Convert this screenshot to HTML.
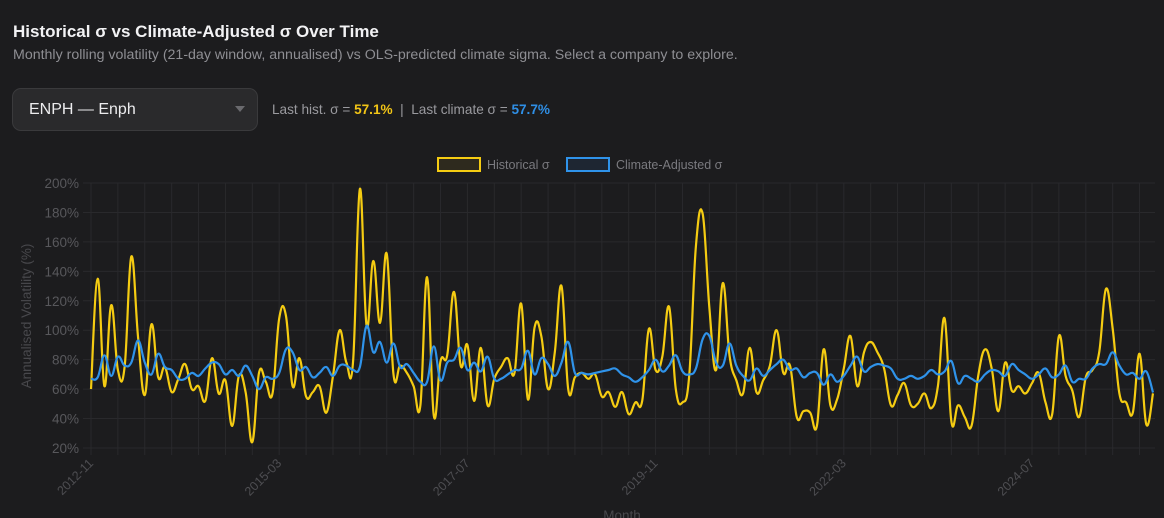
<!DOCTYPE html>
<html><head><meta charset="utf-8">
<style>
html,body{margin:0;padding:0;background:#1c1c1e;width:1164px;height:518px;overflow:hidden;font-family:"Liberation Sans",sans-serif;}
.title{position:absolute;left:13px;top:22px;font-size:17px;font-weight:bold;color:#f2f2f4;}
.sub{position:absolute;left:13px;top:47px;font-size:14.2px;color:#8e8e93;}
.dd{position:absolute;left:12px;top:88px;width:246px;height:43px;box-sizing:border-box;background:#2a2a2c;border:1px solid #3a3a3c;border-radius:9px;}
.dd span{position:absolute;left:16px;top:12px;font-size:16px;color:#ececee;}
.dd i{position:absolute;right:12px;top:17px;width:0;height:0;border-left:5px solid transparent;border-right:5px solid transparent;border-top:6px solid #6a6a6e;}
.stats{position:absolute;left:272px;top:102px;font-size:13.6px;color:#9a9a9f;}
.stats b.y{color:#f2c516}.stats b.b{color:#2f8fe6}
svg{position:absolute;left:0;top:0}
</style></head><body>
<div class="title">Historical σ vs Climate-Adjusted σ Over Time</div>
<div class="sub">Monthly rolling volatility (21-day window, annualised) vs OLS-predicted climate sigma. Select a company to explore.</div>
<div class="dd"><span>ENPH — Enph</span><i></i></div>
<div class="stats">Last hist. σ = <b class="y">57.1%</b> &nbsp;|&nbsp; Last climate σ = <b class="b">57.7%</b></div>
<svg id="chart" width="1164" height="518"></svg>
<script>
const startYear = 2012, startMonth = 11;
const yTicks = [20,40,60,80,100,120,140,160,180,200];
const historical = [60,135,62,117,73,75,150,95,56,104,68,75,58,67,77,60,62,52,81,57,66,35,69,58,24,71,
65,57,108,110,62,81,55,58,62,44,69,100,78,79,196,103,147,105,152,70,76,71,62,49,136,42,79,
83,126,76,90,52,88,49,67,75,81,71,118,53,102,96,60,85,130,60,68,71,67,70,55,58,48,58,43,
51,52,101,73,82,116,60,51,69,157,179,115,73,132,83,66,57,88,58,66,76,100,71,76,41,45,44,
35,87,49,53,74,96,62,85,92,85,74,49,56,64,49,50,57,47,62,108,38,49,41,35,69,87,74,
45,78,59,62,57,64,71,51,43,96,69,59,41,68,73,85,128,101,57,51,44,84,36,57.1];
const climate = [67,68,83,69,82,76,78,93,78,70,84,75,73,67,67,71,69,74,78,77,70,73,69,76,69,60,
68,67,71,87,85,73,75,68,71,75,69,76,76,73,75,103,85,92,78,91,75,77,71,65,65,89,66,
78,80,88,73,78,72,82,67,67,70,73,74,86,70,81,77,69,78,92,71,71,70,71,72,73,74,70,68,
65,68,73,80,72,76,83,72,70,74,94,96,78,76,91,76,69,66,74,69,73,77,80,73,74,68,71,
71,63,70,65,69,76,82,72,75,77,76,74,67,67,69,67,69,73,70,72,79,64,69,67,65,70,73,
72,69,77,73,70,67,70,74,68,70,76,65,67,67,74,77,77,85,76,70,71,67,72,57.7];
const N = historical.length;
const labels = [];
for (let i=0;i<N;i++){const m=(startMonth-1+i);labels.push((startYear+Math.floor(m/12))+'-'+String(m%12+1).padStart(2,'0'));}

const L=91,R=1153,T=183,B=448,yMin=20,yMax=200;
const xs=i=>L+i*(R-L)/(N-1);
const ys=v=>B-(v-yMin)/(yMax-yMin)*(B-T);
const svg=document.getElementById('chart');
const NS='http://www.w3.org/2000/svg';
function mk(tag,attrs,parent){const e=document.createElementNS(NS,tag);for(const k in attrs)e.setAttribute(k,attrs[k]);(parent||svg).appendChild(e);return e;}

for(const t of yTicks){
  const g=mk('line',{x1:L-8,x2:R+2,y1:ys(t),y2:ys(t),stroke:'#29292c','stroke-width':1});
  
  
  const tx=mk('text',{x:L-12,y:ys(t)+5,'text-anchor':'end','font-size':13.5,fill:'#58585c'});
  tx.textContent=t+'%';
  
  
}
for(let i=0;i<N;i+=4){
  const g=mk('line',{x1:xs(i),x2:xs(i),y1:T,y2:B+7,stroke:'#29292c','stroke-width':1});
  
  
  if(i%28===0){
    const x=xs(i)+3,y=B+16;
    const tx=mk('text',{x:x,y:y,'text-anchor':'end','font-size':12.5,fill:'#4e4e52',transform:`rotate(-45 ${x} ${y})`});
    tx.textContent=labels[i];
    
    
  }
}
const yt=mk('text',{x:31,y:316,'text-anchor':'middle','font-size':13.5,fill:'#48484c',transform:'rotate(-90 31 316)'});
yt.textContent='Annualised Volatility (%)';


const xt=mk('text',{x:622,y:520,'text-anchor':'middle','font-size':13.5,fill:'#48484c'});
xt.textContent='Month';



function pathFor(vals){
  const p=vals.map((v,i)=>[xs(i),ys(v)]);const t=0.4;
  let d=`M${p[0][0]},${p[0][1]}`;
  for(let i=0;i<p.length-1;i++){
    const p0=p[i-1]||p[i],p1=p[i],p2=p[i+1],p3=p[i+2]||p2;
    const c1=[p1[0]+(p2[0]-p0[0])*t/2,p1[1]+(p2[1]-p0[1])*t/2];
    const c2=[p2[0]-(p3[0]-p1[0])*t/2,p2[1]-(p3[1]-p1[1])*t/2];
    d+=`C${c1[0].toFixed(1)},${c1[1].toFixed(1)} ${c2[0].toFixed(1)},${c2[1].toFixed(1)} ${p2[0].toFixed(1)},${p2[1].toFixed(1)}`;
  }
  return d;
}
const lh=mk('path',{d:pathFor(historical),fill:'none',stroke:'#f5cc12','stroke-width':2.2});


const lc=mk('path',{d:pathFor(climate),fill:'none',stroke:'#2f93ea','stroke-width':2.2});



const lg=mk('g',{});


const b1=mk('rect',{x:438,y:158,width:42,height:13,fill:'#2e2a1e',stroke:'#f5cc12','stroke-width':2},lg);


const t1=mk('text',{x:487,y:169,'font-size':12.5,fill:'#7a7a7f'},lg);t1.textContent='Historical σ';


const b2=mk('rect',{x:567,y:158,width:42,height:13,fill:'#1e2632',stroke:'#2f93ea','stroke-width':2},lg);


const t2=mk('text',{x:616,y:169,'font-size':12.5,fill:'#7a7a7f'},lg);t2.textContent='Climate-Adjusted σ';


</script>
</body></html>
